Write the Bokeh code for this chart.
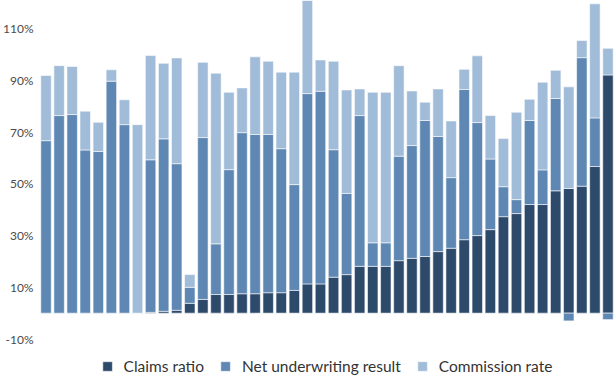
from bokeh.plotting import figure
from bokeh.models import ColumnDataSource, FixedTicker, PrintfTickFormatter, Legend, LegendItem, Range1d
from bokeh.embed import file_html
from bokeh.resources import INLINE

# Data (percent), one entry per bar
bars = list(range(1, 45))
claims = [0, 0, 0, 0, 0, 0, 0, 0, 0.3, 0.7, 1.1, 3.8, 5.3, 7.2, 7.2, 7.5, 7.5, 7.9, 7.9, 8.8,
          11.3, 11.3, 13.9, 14.9, 18.1, 18.1, 18.1, 20.3, 21.2, 21.9, 23.8, 25.1, 28.4, 30.0,
          32.3, 37.3, 38.5, 42.0, 42.0, 47.3, 48.2, 49.1, 56.7, 92.1]
net = [66.7, 76.4, 76.8, 63.1, 62.5, 89.7, 72.9, 0, 59.0, 66.7, 56.7, 6.2, 62.6, 19.6, 48.3,
       62.3, 61.6, 61.2, 55.7, 40.9, 73.6, 74.5, 49.3, 31.4, 58.3, 9.1, 9.1, 40.4, 43.6, 52.6,
       44.5, 27.3, 58.1, 43.7, 27.3, 11.6, 5.4, 32.5, 13.4, 35.7, -3.0, 49.7, 18.8, -2.5]
commission = [25.2, 19.3, 18.6, 15.0, 11.3, 4.4, 9.6, 72.9, 40.3, 29.2, 40.9, 4.9, 29.1, 66.0,
              29.9, 17.3, 30.0, 28.3, 29.6, 43.5, 42.0, 12.1, 34.2, 40.0, 10.3, 58.2, 58.2, 35.0,
              21.1, 7.1, 18.4, 21.9, 7.8, 25.8, 16.8, 18.6, 33.8, 8.2, 33.9, 10.9, 39.3, 6.6,
              44.1, 10.3]
series_names = ["Claims ratio", "Net underwriting result", "Commission rate"]
y_ticks = [-10, 10, 30, 50, 70, 90, 110]

colors = ["#2e4a6b", "#5e88b3", "#a0bcd8"]

x = [i - 1 for i in bars]
c_bot = [0.0] * len(bars)
c_top = list(claims)
n_bot = [c if n >= 0 else n for c, n in zip(claims, net)]
n_top = [c + n if n >= 0 else 0.0 for c, n in zip(claims, net)]
m_bot = [c + max(n, 0) for c, n in zip(claims, net)]
m_top = [b + m for b, m in zip(m_bot, commission)]

src = ColumnDataSource(dict(x=x, c_bot=c_bot, c_top=c_top, n_bot=n_bot, n_top=n_top,
                            m_bot=m_bot, m_top=m_top))

p = figure(width=614, height=376, output_backend="svg", toolbar_location=None,
           x_range=Range1d(-0.5, len(bars) - 0.5), y_range=Range1d(-24.5, 120.9),
           min_border_left=0, min_border_right=0, min_border_top=0, min_border_bottom=0)

r1 = p.vbar(x="x", bottom="c_bot", top="c_top", width=0.8, source=src,
            fill_color=colors[0], line_color="white", line_width=0.8, line_alpha=0.7)
r2 = p.vbar(x="x", bottom="n_bot", top="n_top", width=0.8, source=src,
            fill_color=colors[1], line_color="white", line_width=0.8, line_alpha=0.7)
r3 = p.vbar(x="x", bottom="m_bot", top="m_top", width=0.8, source=src,
            fill_color=colors[2], line_color="white", line_width=0.8, line_alpha=0.7)

p.xaxis.visible = False
p.xgrid.visible = False
p.ygrid.visible = False
p.outline_line_color = None

ya = p.yaxis[0]
ya.ticker = FixedTicker(ticks=y_ticks)
ya.formatter = PrintfTickFormatter(format="%d%%")
ya.axis_line_color = None
ya.major_tick_line_color = None
ya.minor_tick_line_color = None
ya.major_tick_out = 0
ya.major_tick_in = 0
ya.minor_tick_out = 0
ya.minor_tick_in = 0
ya.major_label_standoff = 6
ya.major_label_text_font = "Lato"
ya.major_label_text_font_size = "12px"
ya.major_label_text_color = "#4a4a4a"

legend = Legend(items=[LegendItem(label=series_names[0], renderers=[r1]),
                       LegendItem(label=series_names[1], renderers=[r2]),
                       LegendItem(label=series_names[2], renderers=[r3])],
                orientation="horizontal", location="bottom_center",
                glyph_width=12, glyph_height=12, label_standoff=11, spacing=15,
                padding=0, margin=1, border_line_color=None, background_fill_alpha=0,
                label_text_font="Lato", label_text_font_size="15.5px", label_text_color="#333333",
                label_height=14)
p.add_layout(legend)

open("out.html", "w").write(file_html(p, INLINE))
